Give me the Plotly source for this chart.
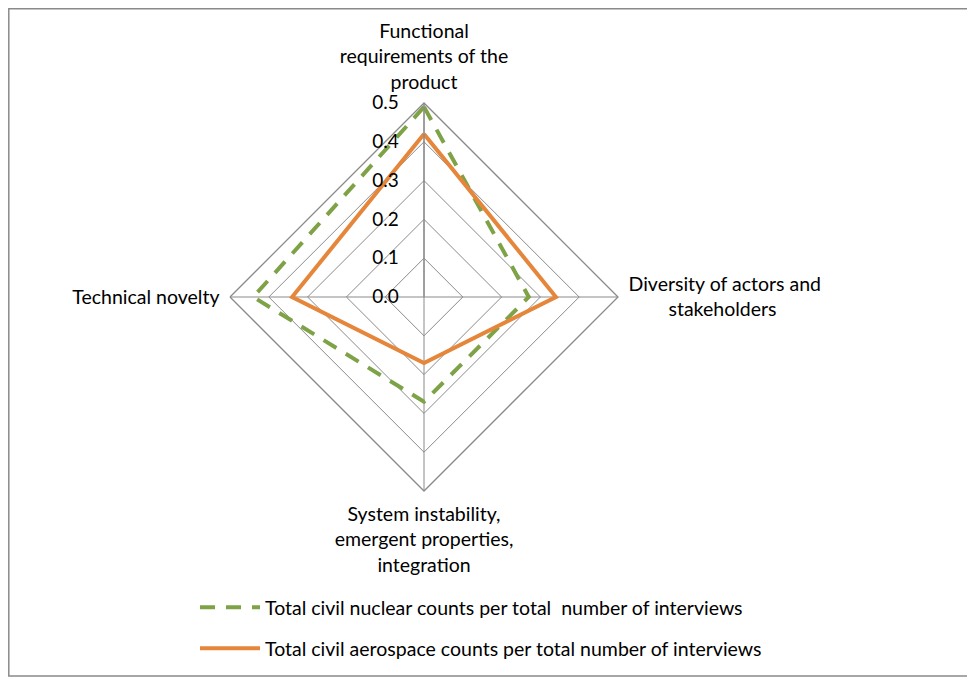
import plotly.graph_objects as go

NB = "&nbsp;"
categories = [
    "Functional<br>requirements of the<br>product",
    "Diversity of actors and<br>" + NB * 8 + "stakeholders",
    "System instability,<br>emergent properties,<br>integration",
    "Technical novelty",
]
nuclear = [0.49, 0.27, 0.27, 0.44]
aerospace = [0.42, 0.34, 0.17, 0.34]
radial_ticks = [0.0, 0.1, 0.2, 0.3, 0.4, 0.5]
series_names = [
    "Total civil nuclear counts per total  number of interviews",
    "Total civil aerospace counts per total number of interviews",
]

OFF = 8  # page body margin
W, H = 975 - OFF, 677 - OFF
cx, cy, R = 424 - OFF, 297 - OFF, 194
FONT = "Lato"
FS = 19.5
GRID = "#8a8a8a"

fig = go.Figure()
fig.add_trace(go.Scatterpolar(
    r=nuclear + nuclear[:1], theta=categories + categories[:1],
    mode="lines", name=series_names[0],
    line=dict(color="#7EA246", width=4, dash="15px,11px"),
    legend="legend",
))
fig.add_trace(go.Scatterpolar(
    r=aerospace + aerospace[:1], theta=categories + categories[:1],
    mode="lines", name=series_names[1],
    line=dict(color="#E5863A", width=4),
    legend="legend2",
))

fig.update_layout(
    width=W, height=H,
    margin=dict(l=0, r=0, t=0, b=0),
    paper_bgcolor="white",
    plot_bgcolor="white",
    font=dict(family=FONT, size=FS, color="#000000"),
    polar=dict(
        domain=dict(x=[(cx - R) / W, (cx + R) / W],
                    y=[(H - cy - R) / H, (H - cy + R) / H]),
        gridshape="linear",
        bgcolor="white",
        angularaxis=dict(
            rotation=90, direction="clockwise",
            showline=True, linecolor=GRID, linewidth=1.3,
            gridcolor=GRID, gridwidth=1.3,
            ticks="outside", ticklen=6, tickcolor="rgba(0,0,0,0)",
            tickfont=dict(family=FONT, size=FS, color="#000"),
        ),
        radialaxis=dict(
            range=[0, 0.5], angle=90, side="counterclockwise",
            tickvals=radial_ticks, ticktext=[f"{v:.1f}" for v in radial_ticks],
            showline=True, linecolor=GRID, linewidth=1.3,
            gridcolor=GRID, gridwidth=1.3,
            ticks="outside", ticklen=18, tickcolor="rgba(0,0,0,0)",
            tickangle=90,
            tickfont=dict(family=FONT, size=19, color="#000"),
        ),
    ),
    legend=dict(x=187 / W, y=1 - 580 / H, xanchor="left", yanchor="top",
                itemwidth=60, font=dict(family=FONT, size=FS),
                bgcolor="rgba(0,0,0,0)"),
    legend2=dict(x=187 / W, y=1 - 621 / H, xanchor="left", yanchor="top",
                 itemwidth=60, font=dict(family=FONT, size=FS),
                 bgcolor="rgba(0,0,0,0)"),
    showlegend=True,
    shapes=[dict(type="rect", xref="paper", yref="paper",
                 x0=0.8 / W, x1=(970 - OFF) / W,
                 y0=1 - (676 - OFF) / H, y1=1 - 0.8 / H,
                 line=dict(color="#8a8a8a", width=1.5))],
)

fig.write_html("out.html")
